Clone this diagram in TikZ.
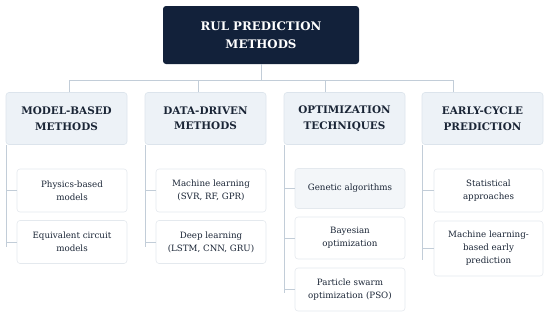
\documentclass[tikz,border=0pt]{standalone}
\usepackage{fontspec}
\setmainfont{DejaVu Serif}
\definecolor{topfill}{HTML}{12213A}
\definecolor{catfill}{HTML}{EDF2F7}
\definecolor{catdraw}{HTML}{DCE4EC}
\definecolor{txt}{HTML}{1A2536}
\definecolor{linec}{HTML}{C2CDD8}
\definecolor{leafdraw}{HTML}{E4E9EE}
\definecolor{leafhl}{HTML}{F3F6F9}
\tikzset{
  topbox/.style={fill=topfill, draw=none, rounded corners=3pt, text=white,
    font=\bfseries\fontsize{11.8}{18}\selectfont, align=center,
    minimum width=196pt, minimum height=58pt, inner sep=0pt},
  catbox/.style={fill=catfill, draw=catdraw, line width=0.6pt, rounded corners=3pt,
    text=txt, font=\bfseries\fontsize{10.4}{15.5}\selectfont, align=center,
    minimum width=121pt, minimum height=52pt, inner sep=0pt},
  leafbox/.style={fill=white, draw=leafdraw, line width=0.6pt, rounded corners=3pt,
    text=txt, font=\fontsize{8.7}{13}\selectfont, align=center,
    minimum width=110pt, minimum height=43pt, inner sep=0pt},
  conn/.style={draw=linec, line width=0.9pt}
}
\begin{document}
\begin{tikzpicture}[x=1pt,y=-1pt]
\useasboundingbox (0,0) rectangle (550,317);
% top
\node[topbox] (top) at (261,35) {RUL PREDICTION\\METHODS};
% categories
\node[catbox] (c1) at (66.5,118.5) {MODEL-BASED\\METHODS};
\node[catbox] (c2) at (205.5,118.5) {DATA-DRIVEN\\METHODS};
\node[catbox] (c3) at (344.5,118.5) {OPTIMIZATION\\TECHNIQUES};
\node[catbox] (c4) at (482.5,118.5) {EARLY-CYCLE\\PREDICTION};
% leaves
\node[leafbox] (l11) at (72,190.5) {Physics-based\\models};
\node[leafbox] (l12) at (72,242) {Equivalent circuit\\models};
\node[leafbox] (l21) at (211,190.5) {Machine learning\\(SVR, RF, GPR)};
\node[leafbox] (l22) at (211,242) {Deep learning\\(LSTM, CNN, GRU)};
\node[leafbox, fill=leafhl, minimum height=40pt] (l31) at (350,188.5) {Genetic algorithms};
\node[leafbox, minimum height=42pt] (l32) at (350,238) {Bayesian\\optimization};
\node[leafbox] (l33) at (350,289.5) {Particle swarm\\optimization (PSO)};
\node[leafbox, minimum width=109pt] (l41) at (488.5,190.5) {Statistical\\approaches};
\node[leafbox, minimum width=109pt, minimum height=55pt] (l42) at (488.5,248.5) {Machine learning-\\based early\\prediction};
% trunk
\coordinate (hub) at (top.south |- 0,80);
\coordinate (j1) at (69.5,80);
\coordinate (j2) at (198,80);
\coordinate (j3) at (325.5,80);
\coordinate (j4) at (453,80);
\draw[conn] (top.south) -- (hub);
\draw[conn] (j1) -- (j4);
\foreach \i in {1,2,3,4} \draw[conn] (j\i) -- (j\i |- c\i.north);
% side rails
\coordinate (v1) at ([xshift=0.5pt]c1.south west);
\coordinate (v2) at ([xshift=0.5pt]c2.south west);
\coordinate (v3) at ([xshift=0.5pt]c3.south west);
\coordinate (v4) at ([xshift=0.5pt]c4.south west);
\coordinate (e1) at (v1 |- 0,247);
\coordinate (e2) at (v2 |- 0,247);
\coordinate (e3) at (v3 |- 0,293);
\coordinate (e4) at (v4 |- 0,260);
\foreach \i in {1,2,3,4} \draw[conn] (v\i) -- (e\i);
\draw[conn] (v1 |- l11.west) -- (l11.west);
\draw[conn] (v1 |- l12.west) -- (l12.west);
\draw[conn] (v2 |- l21.west) -- (l21.west);
\draw[conn] (v2 |- l22.west) -- (l22.west);
\draw[conn] (v3 |- l31.west) -- (l31.west);
\draw[conn] (v3 |- l32.west) -- (l32.west);
\draw[conn] (v3 |- l33.west) -- (l33.west);
\draw[conn] (v4 |- l41.west) -- (l41.west);
\draw[conn] (v4 |- l42.west) -- (l42.west);
\end{tikzpicture}
\end{document}
